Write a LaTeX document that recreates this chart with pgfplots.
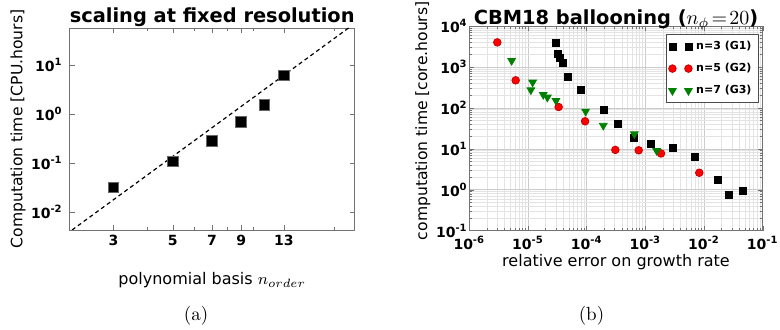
\documentclass[border=0pt]{standalone}
\usepackage{pgfplots}
\pgfplotsset{compat=1.18}
\usepackage{fontspec}
\newfontfamily\dv{DejaVu Sans}
\definecolor{mgreen}{rgb}{0,0.5,0}
\begin{document}
\begin{tikzpicture}
\useasboundingbox (0,0) rectangle (390pt,165pt);
% ---------------- (a) ----------------
\begin{axis}[
  at={(34.85pt,50pt)}, anchor=south west, scale only axis,
  width=142.5pt, height=101pt,
  xmode=log, ymode=log, log basis y=10,
  xmin=2.06, xmax=23.9, ymin=0.0043, ymax=58,
  xtick={3,5,7,9,13}, xticklabels={3,5,7,9,13},
  minor xtick={4,6,8,10,20},
  ytick={0.01,0.1,1,10},
  yticklabel={\pgfmathtruncatemacro\e{round(\tick)}10\textsuperscript{\e}},
  tick label style={font=\dv\bfseries\fontsize{7}{8}\selectfont},
  xticklabel style={anchor=base, yshift=-8pt},
  axis line style={black!55}, tick style={black!55},
  major tick length=2.5pt, minor tick length=1.3pt,
  title={scaling at fixed resolution},
  title style={font=\dv\bfseries\fontsize{9.7}{11}\selectfont, at={(axis description cs:0.5,1)}, anchor=base, yshift=-3.5pt},
  xlabel={polynomial basis $n_{order}$},
  xlabel style={font=\dv\fontsize{8}{9}\selectfont, at={(axis description cs:0.5,-0.272)}, anchor=base},
  ylabel={Computation time [CPU.hours]},
  ylabel style={font=\dv\fontsize{7.8}{9}\selectfont, at={(axis description cs:-0.181,0.5)}, anchor=center},
]
\addplot[black, dashed, dash pattern=on 2pt off 1.6pt, line width=0.6pt] coordinates {(2,0.00352) (25,85.9)};
\addplot[only marks, mark=square*, mark size=2.65pt, black, mark options={draw=black!60, fill=black}] coordinates {
(3,0.032) (5,0.108) (7,0.286) (9,0.70) (11,1.56) (13,6.25)};
\end{axis}
% ---------------- (b) ----------------
\begin{axis}[
  at={(234.65pt,49.65pt)}, anchor=south west, scale only axis,
  width=146.7pt, height=102.35pt,
  xmode=log, ymode=log, log basis x=10, log basis y=10,
  xmin=1e-6, xmax=1e-1, ymin=1e-1, ymax=1e4,
  ytick={0.1,1,10,100,1000,10000},
  minor ytick={0.2,0.3,0.4,0.5,0.6,0.7,0.8,0.9,2,3,4,5,6,7,8,9,20,30,40,50,60,70,80,90,200,300,400,500,600,700,800,900,2000,3000,4000,5000,6000,7000,8000,9000},
  grid=both, major grid style={black!20, line width=0.3pt}, minor grid style={black!11, line width=0.3pt},
  axis on top,
  xticklabel={\pgfmathtruncatemacro\e{round(\tick)}10\textsuperscript{\e}},
  yticklabel={\pgfmathtruncatemacro\e{round(\tick)}10\textsuperscript{\e}},
  tick label style={font=\dv\bfseries\fontsize{7}{8}\selectfont},
  xticklabel style={anchor=base, yshift=-9.2pt},
  yticklabel style={inner sep=0.6pt},
  axis line style={black!55}, tick style={black!55},
  major tick length=2.5pt, minor tick length=1.3pt,
  title={CBM18 ballooning ($n_\phi\!=\!20$)},
  title style={font=\dv\bfseries\fontsize{9.7}{11}\selectfont, at={(axis description cs:0.5,1)}, anchor=base, yshift=-5.2pt},
  xlabel={relative error on growth rate},
  xlabel style={font=\dv\fontsize{8}{9}\selectfont, at={(axis description cs:0.5,-0.174)}, anchor=base},
  ylabel={computation time [core.hours]},
  ylabel style={font=\dv\fontsize{7.8}{9}\selectfont, at={(axis description cs:-0.158,0.537)}, anchor=center},
  legend image code/.code={\draw[only marks] plot coordinates {(0pt,0pt) (8pt,0pt)};},
  legend style={at={(rel axis cs:0.985,0.961)}, anchor=north east,
    font=\dv\bfseries\fontsize{5.5}{6.5}\selectfont, draw=black!70, fill=white,
    inner sep=1.2pt, row sep=1.4pt, legend cell align=left},
]
\addplot[only marks, mark=square*, mark size=1.75pt, black] coordinates {
(3.0e-5,3920) (3.29e-5,2030) (3.56e-5,1620) (3.9e-5,1270) (4.87e-5,557) (8.0e-5,268)
(1.97e-4,90) (3.47e-4,41) (6.4e-4,19) (1.23e-3,13.1) (2.92e-3,10.7) (7.1e-3,6.4)
(0.0169,1.73) (0.027,0.77) (0.0468,0.95)};
\addlegendentry{n=3 (G1)}
\addplot[only marks, mark=*, mark size=1.9pt, red, mark options={draw=red!80!black, fill=red}] coordinates {
(3.0e-6,3980) (6.17e-6,471) (3.33e-5,105) (9.4e-5,47) (3.08e-4,9.4) (7.7e-4,9.2)
(1.85e-3,7.7) (8.3e-3,2.6)};
\addlegendentry{n=5 (G2)}
\addplot[only marks, mark=triangle*, mark size=2.2pt, mgreen, mark options={rotate=180, draw=mgreen, fill=mgreen}] coordinates {
(5.27e-6,1420) (1.2e-5,421) (1.12e-5,273) (1.82e-5,210) (2.14e-5,181) (3.0e-5,150)
(9.6e-5,82) (1.92e-4,37) (6.5e-4,23) (1.56e-3,9)};
\addlegendentry{n=7 (G3)}
\end{axis}
\node[font=\fontsize{9.5}{11}\selectfont, anchor=base] at (98pt,4.5pt) {(a)};
\node[font=\fontsize{9.5}{11}\selectfont, anchor=base] at (295.75pt,4.5pt) {(b)};
\end{tikzpicture}
\end{document}
